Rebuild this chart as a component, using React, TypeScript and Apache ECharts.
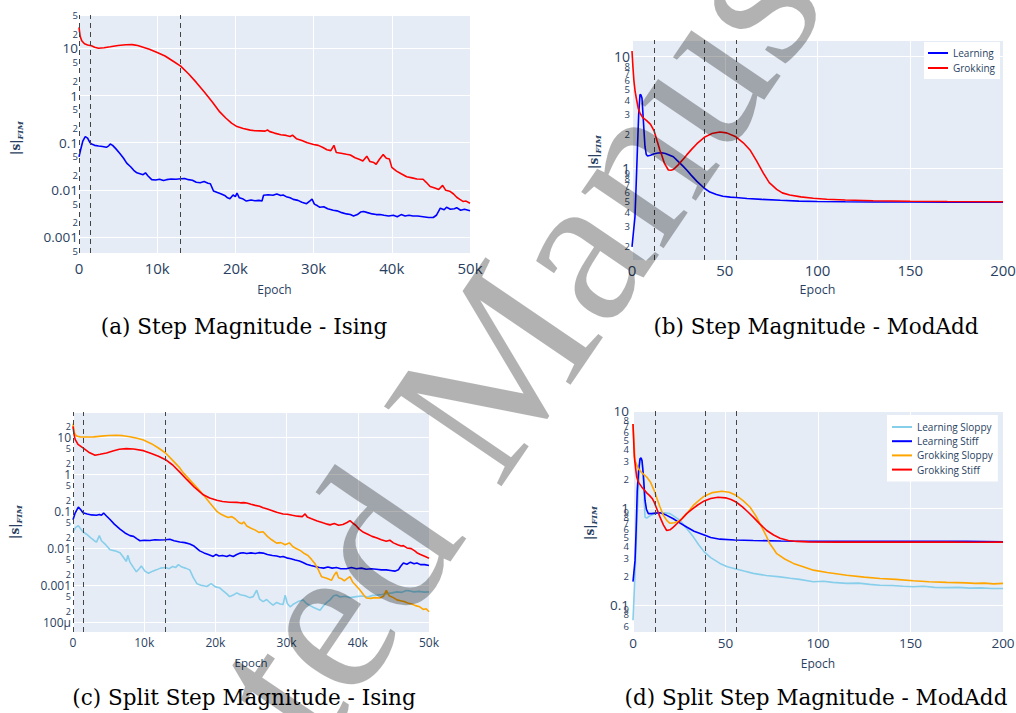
import React, { useEffect, useRef } from 'react';
import * as echarts from 'echarts';

// ---------- Data ----------
// Panel (a): Step Magnitude - Ising
const isingLearning: number[][] = [[0,0.05],[200,0.07],[500,0.11],[800,0.135],[1100,0.125],[1400,0.1],[1600,0.094],[2000,0.088],[2500,0.085],[3000,0.083],[3500,0.08],[3800,0.086],[4000,0.094],[4300,0.088],[4700,0.075],[5200,0.06],[5700,0.047],[6100,0.037],[6600,0.031],[7000,0.026],[7400,0.023],[7800,0.022],[8200,0.021],[8500,0.023],[8800,0.02],[9300,0.0165],[9800,0.0162],[10300,0.0168],[10800,0.0158],[11200,0.0165],[11800,0.017],[12400,0.0168],[13000,0.0172],[13500,0.0175],[14000,0.0165],[14500,0.016],[15000,0.0145],[15500,0.0142],[16000,0.015],[16500,0.0138],[16800,0.0135],[17200,0.0095],[17700,0.0088],[18200,0.0082],[18700,0.0075],[19000,0.0068],[19300,0.0065],[19700,0.0078],[20000,0.0072],[20200,0.0086],[20500,0.0068],[21000,0.0064],[21400,0.0058],[22000,0.0061],[22500,0.0059],[23000,0.006],[23400,0.0058],[23600,0.0077],[24200,0.0079],[24800,0.0077],[25300,0.0082],[25800,0.0076],[26100,0.0078],[26500,0.0072],[27000,0.0068],[27400,0.0063],[28000,0.006],[28500,0.0055],[29100,0.0051],[29500,0.0058],[29800,0.0064],[30100,0.005],[30500,0.0046],[30800,0.0043],[31300,0.0044],[31800,0.004],[32500,0.0037],[33000,0.0036],[33600,0.0033],[34200,0.0031],[34700,0.003],[35100,0.0028],[35600,0.003],[36000,0.0034],[36400,0.0035],[36900,0.0033],[37500,0.0031],[38000,0.003],[38500,0.003],[39000,0.0029],[39600,0.0028],[40200,0.0029],[40700,0.0027],[41200,0.003],[41700,0.0028],[42200,0.0029],[42700,0.0028],[43300,0.0028],[44000,0.0027],[44700,0.0026],[45300,0.0026],[45700,0.0029],[46200,0.0041],[46700,0.0038],[47000,0.0043],[47500,0.0039],[48000,0.004],[48300,0.0042],[48800,0.0037],[49300,0.0039],[50000,0.0036]];
const isingGrokking: number[][] = [[0,28],[150,18],[350,14.5],[700,12.5],[1100,11.8],[1600,11.4],[2000,10.6],[2500,10.1],[3200,10.3],[4000,10.8],[5000,11.5],[6000,11.9],[6800,12],[7500,11.5],[8200,10.6],[9000,9.6],[10000,8.2],[11000,6.9],[12000,5.4],[13000,4.2],[14000,2.9],[15000,1.9],[16000,1.2],[17000,0.75],[18000,0.45],[18800,0.33],[19500,0.26],[20200,0.22],[21000,0.2],[21900,0.185],[22500,0.18],[23200,0.178],[23800,0.176],[24100,0.186],[24400,0.172],[25000,0.16],[25800,0.148],[26500,0.143],[27000,0.136],[27300,0.145],[27800,0.122],[28500,0.112],[29200,0.1],[30000,0.092],[30600,0.088],[31200,0.079],[31700,0.071],[32200,0.068],[32600,0.088],[32900,0.062],[33500,0.06],[34200,0.057],[34700,0.055],[35300,0.048],[35900,0.044],[36300,0.041],[36800,0.052],[37200,0.04],[37700,0.038],[38000,0.035],[38400,0.044],[38900,0.056],[39300,0.047],[39700,0.045],[40000,0.03],[40600,0.025],[41200,0.022],[41900,0.019],[42600,0.018],[43200,0.017],[44000,0.0168],[44400,0.0145],[44900,0.0118],[45500,0.011],[46000,0.0102],[46500,0.0125],[46900,0.0098],[47400,0.0094],[47900,0.0082],[48300,0.007],[48700,0.0063],[49100,0.0057],[49500,0.0058],[50000,0.0052]];

// Panel (b): Step Magnitude - ModAdd
const modLearning: number[][] = [[0,0.198],[0.8,0.27],[1.6,0.367],[2.3,0.75],[2.9,1.45],[3.6,3.0],[4.3,4.54],[4.8,4.5],[5.4,4.19],[6.1,2.7],[7,1.55],[7.7,1.32],[8.4,1.28],[10,1.3],[12,1.34],[14,1.36],[16,1.37],[18,1.35],[20,1.31],[22.3,1.26],[25,1.14],[27.5,1.04],[29.5,0.96],[32,0.86],[35,0.76],[39,0.66],[42,0.61],[45.5,0.58],[49,0.56],[53,0.55],[56,0.546],[62,0.535],[70,0.525],[80,0.515],[90,0.507],[100,0.503],[115,0.5],[130,0.498],[150,0.497],[170,0.496],[185,0.496],[200,0.495]];
const modGrokking: number[][] = [[0,11.1],[0.5,8],[1,6.1],[1.7,4.8],[2.5,4.05],[3.4,3.4],[4.3,3.08],[6,2.8],[7.9,2.65],[10,2.45],[11.9,2.15],[13.5,1.75],[15,1.45],[16,1.31],[17.5,1.1],[19.6,0.96],[21,0.955],[22.3,0.97],[24.5,1.05],[27,1.17],[29.5,1.31],[32,1.46],[35,1.65],[39,1.88],[43,2.03],[47.4,2.1],[51,2.06],[56,1.9],[60,1.68],[63.6,1.45],[67,1.17],[70.8,0.9],[74,0.74],[78,0.645],[81,0.6],[85,0.574],[91,0.553],[97.7,0.537],[105,0.527],[115,0.518],[130,0.51],[150,0.505],[170,0.502],[200,0.5]];

// Panel (c): Split Step Magnitude - Ising
const isingLearningSloppy: number[][] = [[0,0.028],[350,0.036],[750,0.041],[1100,0.033],[1400,0.028],[1900,0.024],[2500,0.019],[3000,0.016],[3300,0.0147],[3700,0.022],[4000,0.016],[4500,0.013],[5200,0.0091],[5900,0.0085],[6600,0.0076],[7000,0.006],[7500,0.0044],[7700,0.0065],[8000,0.0042],[8500,0.003],[8900,0.0023],[9300,0.0028],[9600,0.0033],[10100,0.0024],[10600,0.0021],[11200,0.0024],[11700,0.0026],[12300,0.0029],[13000,0.003],[13500,0.0028],[14000,0.0032],[14400,0.003],[14800,0.0036],[15300,0.0031],[15800,0.0029],[16400,0.0026],[16900,0.0016],[17400,0.0011],[18000,0.001],[18800,0.00092],[19400,0.0011],[20000,0.0009],[20600,0.00085],[21100,0.0007],[21600,0.00058],[22000,0.00049],[22500,0.00054],[23000,0.00062],[23500,0.00055],[24200,0.00052],[24800,0.00046],[25300,0.00049],[25800,0.00073],[26200,0.00042],[26700,0.00036],[27200,0.00041],[27700,0.00033],[28100,0.00029],[28600,0.00034],[29100,0.00031],[29500,0.0003],[29800,0.00054],[30100,0.00032],[30500,0.00026],[31000,0.00031],[31600,0.00036],[32300,0.0004],[32800,0.00032],[33300,0.00028],[33800,0.00025],[34200,0.00023],[34700,0.00021],[35200,0.00028],[35700,0.00035],[36100,0.0004],[36600,0.00052],[37000,0.00054],[37500,0.00048],[38200,0.0005],[38900,0.00046],[39800,0.00049],[40600,0.00051],[41400,0.00048],[42100,0.00053],[42700,0.00054],[43400,0.00056],[44100,0.00059],[44800,0.00062],[45500,0.00066],[46200,0.00064],[46800,0.00072],[47300,0.0007],[47900,0.00066],[48600,0.00068],[49300,0.00065],[50000,0.00066]];
const isingLearningStiff: number[][] = [[0,0.059],[300,0.09],[750,0.13],[1100,0.11],[1400,0.092],[2000,0.085],[2600,0.08],[3300,0.078],[3700,0.082],[4000,0.078],[4300,0.09],[4700,0.075],[5200,0.06],[5800,0.045],[6600,0.033],[7300,0.026],[8000,0.022],[8500,0.021],[9000,0.018],[9400,0.016],[10000,0.0165],[10800,0.0162],[11500,0.017],[12200,0.0168],[13000,0.017],[13600,0.0175],[14200,0.016],[15000,0.0148],[15700,0.0142],[16400,0.013],[17000,0.0115],[17800,0.0085],[18400,0.0075],[19000,0.0068],[19700,0.006],[20100,0.0068],[20500,0.0062],[21000,0.0064],[21600,0.006],[22000,0.0065],[22500,0.006],[23000,0.0068],[23500,0.0074],[23900,0.0076],[24400,0.0072],[25000,0.0075],[25600,0.0072],[26100,0.0076],[26700,0.0074],[27300,0.0068],[28000,0.0064],[28600,0.0062],[29100,0.0058],[29500,0.006],[30000,0.0055],[30600,0.0052],[31200,0.0048],[31800,0.0045],[32300,0.0041],[32800,0.0037],[33400,0.0034],[34000,0.0032],[34600,0.003],[35200,0.0029],[35800,0.0031],[36400,0.0029],[37000,0.003],[37600,0.0028],[38400,0.0028],[39100,0.003],[39800,0.0028],[40500,0.0029],[41200,0.0027],[41900,0.0028],[42600,0.0027],[43300,0.0026],[44000,0.0026],[44600,0.0025],[45200,0.0024],[45700,0.0026],[46000,0.0032],[46400,0.004],[46900,0.0037],[47400,0.0042],[47900,0.0038],[48300,0.004],[48800,0.0036],[49400,0.0036],[50000,0.0034]];
const isingGrokkingSloppy: number[][] = [[0,23.6],[150,14],[300,12],[600,10.8],[1000,10.4],[2000,10.3],[2900,10.4],[4000,10.9],[5000,11.3],[6100,11.5],[7000,11.2],[8000,10.5],[9000,9.5],[9900,8.5],[11000,6.8],[12000,5.2],[13000,3.8],[14000,2.4],[15000,1.5],[15500,1.1],[16500,0.68],[17500,0.42],[18300,0.28],[19200,0.17],[20200,0.1],[20800,0.083],[21300,0.075],[21800,0.068],[22300,0.072],[22800,0.062],[23300,0.05],[23700,0.046],[24000,0.052],[24400,0.04],[25000,0.035],[25600,0.031],[26100,0.027],[26700,0.028],[27300,0.021],[27900,0.017],[28600,0.0138],[29200,0.0142],[29800,0.0125],[30400,0.014],[30900,0.011],[31500,0.0095],[32000,0.0085],[32500,0.0072],[33000,0.0064],[33500,0.005],[34000,0.0038],[34500,0.0025],[34900,0.0017],[35400,0.0016],[35800,0.0015],[36300,0.00135],[36700,0.0019],[37000,0.0023],[37300,0.0016],[37700,0.0015],[38100,0.0013],[38500,0.0015],[38900,0.0017],[39300,0.0012],[39700,0.001],[40300,0.00074],[40800,0.00055],[41200,0.00045],[41800,0.00044],[42400,0.00046],[43100,0.00045],[43600,0.0005],[44000,0.00072],[44400,0.00052],[45000,0.00046],[45500,0.0004],[46000,0.00038],[46500,0.00036],[47000,0.00033],[47600,0.00031],[48100,0.00028],[48700,0.00026],[49200,0.00022],[49600,0.00023],[50000,0.00019]];
const isingGrokkingStiff: number[][] = [[0,20],[150,12],[300,8.9],[700,6.5],[1400,5.2],[2200,4],[3100,3.3],[3800,3.5],[4700,3.8],[5600,4.3],[6500,4.8],[7500,5.0],[8500,4.9],[9900,4.4],[11000,3.7],[12000,3.1],[13000,2.5],[14000,1.8],[15000,1.15],[16000,0.72],[17000,0.46],[18300,0.28],[19200,0.23],[20200,0.2],[21000,0.185],[22000,0.176],[23000,0.175],[23500,0.17],[24000,0.172],[24400,0.168],[25000,0.155],[25600,0.145],[26200,0.138],[26700,0.125],[27300,0.115],[27900,0.105],[28600,0.094],[29500,0.085],[30100,0.083],[30800,0.078],[31500,0.074],[32200,0.072],[32600,0.085],[32900,0.07],[33500,0.063],[34300,0.055],[35100,0.049],[35700,0.045],[36100,0.043],[36700,0.047],[37300,0.042],[37900,0.044],[38500,0.05],[38900,0.056],[39300,0.048],[39700,0.042],[40200,0.033],[40800,0.027],[41400,0.024],[42000,0.021],[42700,0.019],[43300,0.017],[44000,0.0155],[44500,0.0165],[45000,0.014],[45600,0.0125],[46100,0.0115],[46400,0.0118],[46900,0.0102],[47500,0.0098],[48000,0.0085],[48300,0.0076],[48800,0.0068],[49300,0.0062],[49700,0.0057],[50000,0.0054]];

// Panel (d): Split Step Magnitude - ModAdd
const modLearningSloppy: number[][] = [[0,0.07],[0.7,0.143],[1.6,0.37],[2.3,0.9],[2.9,1.53],[3.8,3.2],[4.4,3.3],[4.9,3.07],[5.6,2.0],[6.5,0.81],[7.4,0.79],[8.5,0.82],[10,0.85],[12,0.88],[14.6,0.9],[17,0.9],[20,0.88],[22.5,0.82],[25.4,0.75],[29,0.62],[32.6,0.507],[35.5,0.42],[38.5,0.355],[42,0.31],[47,0.27],[51,0.25],[55.7,0.236],[60,0.225],[65,0.213],[72,0.203],[79.5,0.196],[85,0.19],[90,0.185],[97.5,0.175],[103,0.177],[108,0.172],[115.5,0.168],[122,0.169],[128,0.164],[133.5,0.161],[140,0.16],[146,0.157],[151.5,0.155],[157,0.157],[163,0.153],[169.5,0.152],[176,0.153],[182,0.15],[188,0.151],[194,0.149],[200,0.149]];
const modLearningStiff: number[][] = [[0,0.175],[1.1,0.29],[1.7,0.6],[2.3,1.53],[3,2.4],[3.8,3.25],[4.4,3.3],[4.9,3.07],[5.6,2.2],[6.5,1.21],[7.3,0.97],[8.3,0.88],[10,0.88],[12,0.89],[14.6,0.9],[18,0.85],[21.8,0.78],[25,0.71],[29,0.64],[33,0.58],[38.5,0.53],[42,0.5],[47,0.48],[55,0.47],[65,0.465],[80,0.46],[100,0.455],[120,0.455],[140,0.455],[160,0.455],[180,0.455],[200,0.452]];
const modGrokkingSloppy: number[][] = [[0,7.4],[0.6,4.5],[1.1,3.1],[2,2.8],[2.9,2.56],[5,2.3],[7.4,2.1],[9.5,1.85],[11.4,1.53],[13,1.25],[14.6,1.03],[16.5,0.84],[18.5,0.74],[20,0.7],[22.5,0.71],[25.4,0.75],[29,0.88],[32.6,1.07],[35.5,1.2],[38.5,1.33],[43,1.45],[48,1.5],[52,1.46],[55.7,1.36],[59.5,1.2],[63.2,1.03],[66.5,0.83],[69.6,0.64],[72,0.52],[74,0.43],[76,0.38],[77.7,0.34],[82,0.3],[86.7,0.27],[92,0.25],[97.5,0.23],[105,0.218],[115.5,0.204],[125,0.195],[133.5,0.189],[142,0.185],[151.5,0.179],[160,0.175],[169.5,0.172],[175,0.171],[180,0.17],[185,0.168],[190,0.169],[195,0.166],[200,0.168]];
const modGrokkingStiff: number[][] = [[0,7.4],[0.7,3.4],[1.5,2.5],[2,2.1],[3,1.85],[4.7,1.66],[6,1.55],[7.4,1.44],[9,1.35],[10.5,1.25],[11.4,1.16],[13,0.97],[14.6,0.81],[16.5,0.67],[18.2,0.59],[20,0.6],[21.8,0.64],[24,0.7],[26.5,0.78],[29,0.88],[32,0.98],[35,1.08],[38.5,1.19],[42,1.26],[46,1.3],[50,1.28],[53,1.23],[55.7,1.16],[59,1.04],[62,0.92],[65,0.81],[68.5,0.69],[72.3,0.59],[76,0.53],[79.5,0.49],[84,0.465],[88.5,0.455],[95,0.45],[110,0.448],[130,0.448],[150,0.447],[170,0.448],[185,0.446],[200,0.447]];

// Phase boundaries (dashed lines)
const isingPhaseLines = [0, 1500, 13000];
const modAddPhaseLines = [12, 39, 56];

// Tick values
const yTicksA = [0.0005, 0.001, 0.002, 0.005, 0.01, 0.02, 0.05, 0.1, 0.2, 0.5, 1, 2, 5, 10, 20, 50];
const yTicksB = [0.2, 0.3, 0.4, 0.5, 0.6, 0.7, 0.8, 0.9, 1, 2, 3, 4, 5, 6, 7, 8, 9, 10];
const yTicksC = [0.0001, 0.0002, 0.0005, 0.001, 0.002, 0.005, 0.01, 0.02, 0.05, 0.1, 0.2, 0.5, 1, 2, 5, 10, 20];
const yTicksD = [0.06, 0.07, 0.08, 0.09, 0.1, 0.2, 0.3, 0.4, 0.5, 0.6, 0.7, 0.8, 0.9, 1, 2, 3, 4, 5, 6, 7, 8, 9, 10];
const powerLabels: Record<string, string> = { '1': '10', '0': '1', '-1': '0.1', '-2': '0.01', '-3': '0.001', '-4': '100μ' };

const captions = [
  '(a) Step Magnitude - Ising',
  '(b) Step Magnitude - ModAdd',
  '(c) Split Step Magnitude - Ising',
  '(d) Split Step Magnitude - ModAdd',
];
const watermark = 'Accepted Manuscript';

const C_RED = '#ff0000';
const C_BLUE = '#0000ff';
const C_ORANGE = '#ffa500';
const C_SKY = '#87ceeb';
const TXT = '#2a3f5f';
const FONT = 'Open Sans';

function logLabel(v: number): string {
  const lg = Math.log10(v);
  const e = Math.round(lg);
  if (Math.abs(lg - e) < 1e-6) return '{big|' + powerLabels[String(e)] + '}';
  const m = Math.round(v / Math.pow(10, Math.floor(lg + 1e-9)));
  return '{small|' + m + '}';
}

function yAxis(gridIndex: number, min: number, max: number, ticks: number[], big: number, small: number, margin: number) {
  return {
    type: 'log', logBase: 10, gridIndex, min, max,
    axisLine: { show: false }, axisTick: { show: false },
    axisLabel: {
      customValues: ticks, formatter: logLabel, margin, color: TXT,
      showMinLabel: true, showMaxLabel: true, hideOverlap: false,
      rich: {
        big: { fontSize: big, color: TXT, fontFamily: FONT },
        small: { fontSize: small, color: TXT, fontFamily: FONT },
      },
    },
    splitLine: { show: true, customValues: ticks, lineStyle: { color: '#ffffff', width: 1 } },
    minorTick: { show: false }, minorSplitLine: { show: false },
  };
}

function xAxis(gridIndex: number, max: number, interval: number, isK: boolean, fs: number, margin: number, nameGap: number, nameSize: number) {
  return {
    type: 'value', gridIndex, min: 0, max, interval,
    axisLine: { show: false }, axisTick: { show: false },
    axisLabel: {
      fontSize: fs, color: TXT, fontFamily: FONT, margin, showMinLabel: true, showMaxLabel: true,
      formatter: (v: number) => (isK ? (v === 0 ? '0' : v / 1000 + 'k') : String(v)),
    },
    splitLine: { show: true, lineStyle: { color: '#ffffff', width: 1 } },
    name: 'Epoch', nameLocation: 'middle', nameGap,
    nameTextStyle: { fontSize: nameSize, color: TXT, fontFamily: FONT },
  };
}

function lineSeries(name: string, data: number[][], color: string, idx: number, dashed?: number[]) {
  const s: any = {
    type: 'line', name, data, xAxisIndex: idx, yAxisIndex: idx,
    showSymbol: false, symbol: 'none', silent: true, emphasis: { disabled: true },
    lineStyle: { color, width: 1.6 }, itemStyle: { color },
  };
  if (dashed) {
    s.markLine = {
      silent: true, symbol: ['none', 'none'], label: { show: false },
      lineStyle: { type: [5, 4], color: '#444444', width: 1 },
      emphasis: { disabled: true },
      data: dashed.map((x) => ({ xAxis: x })),
    };
  }
  return s;
}

function yTitle(x: number, y: number) {
  return {
    type: 'text', x, y, rotation: Math.PI / 2, silent: true,
    style: {
      text: '{n||s|}{s|FIM}', align: 'center', verticalAlign: 'middle',
      rich: {
        n: { fontSize: 12, fontWeight: 'bold', fontFamily: 'DejaVu Serif', fill: TXT, lineHeight: 15, verticalAlign: 'middle' },
        s: { fontSize: 8, fontWeight: 'bold', fontStyle: 'italic', fontFamily: 'DejaVu Serif', fill: TXT, lineHeight: 15, verticalAlign: 'bottom' },
      },
    },
  };
}

function caption(text: string, x: number, y: number) {
  return {
    type: 'text', x, y, silent: true,
    style: { text, fontSize: 21.5, fontFamily: 'DejaVu Serif', fill: '#000000', align: 'center', verticalAlign: 'middle' },
  };
}

export default function App() {
  const ref = useRef<HTMLDivElement>(null);
  useEffect(() => {
    if (!ref.current) return;
    const chart = echarts.init(ref.current, undefined, { renderer: 'svg' });
    const gridBase = { show: true, backgroundColor: '#E5ECF6', borderWidth: 0, containLabel: false, outerBoundsMode: 'none' };
    const legendBase = {
      orient: 'vertical', icon: 'rect', itemWidth: 20, itemHeight: 2, selectedMode: false,
      backgroundColor: '#ffffff', textStyle: { fontSize: 10, color: TXT, fontFamily: FONT, lineHeight: 12 },
    };
    const option: any = {
      animation: false,
      textStyle: { fontFamily: FONT },
      grid: [
        { ...gridBase, left: 79, top: 15, width: 391, height: 238 },
        { ...gridBase, left: 632, top: 40, width: 371, height: 220 },
        { ...gridBase, left: 73, top: 412, width: 356, height: 220 },
        { ...gridBase, left: 633, top: 410, width: 370, height: 222 },
      ],
      xAxis: [
        xAxis(0, 50000, 10000, true, 15, 7, 30, 12),
        xAxis(1, 200, 50, false, 15, 2, 23, 12.5),
        xAxis(2, 50000, 10000, true, 12, 4, 24, 11.5),
        xAxis(3, 200, 50, false, 13.5, 4, 25, 12),
      ],
      yAxis: [
        yAxis(0, 0.00046, 51, yTicksA, 13.5, 9.5, 1),
        yAxis(1, 0.151, 13.9, yTicksB, 14, 9.5, 2),
        yAxis(2, 0.000054, 49, yTicksC, 12, 9, 2),
        yAxis(3, 0.053, 10.3, yTicksD, 13.5, 9.5, 4),
      ],
      legend: [
        { ...legendBase, data: ['Learning', 'Grokking'], left: 924, top: 42, itemGap: 3, padding: [5, 5, 5, 4] },
        { ...legendBase, data: ['Learning Sloppy', 'Learning Stiff', 'Grokking Sloppy', 'Grokking Stiff'], left: 887, top: 415, itemGap: 2.2, padding: [6, 5, 6, 5] },
      ],
      series: [
        lineSeries('Ising Learning', isingLearning, C_BLUE, 0, isingPhaseLines),
        lineSeries('Ising Grokking', isingGrokking, C_RED, 0),
        lineSeries('Learning', modLearning, C_BLUE, 1, modAddPhaseLines),
        lineSeries('Grokking', modGrokking, C_RED, 1),
        lineSeries('Ising Learning Sloppy', isingLearningSloppy, C_SKY, 2, isingPhaseLines),
        lineSeries('Ising Learning Stiff', isingLearningStiff, C_BLUE, 2),
        lineSeries('Ising Grokking Sloppy', isingGrokkingSloppy, C_ORANGE, 2),
        lineSeries('Ising Grokking Stiff', isingGrokkingStiff, C_RED, 2),
        lineSeries('Learning Sloppy', modLearningSloppy, C_SKY, 3, modAddPhaseLines),
        lineSeries('Learning Stiff', modLearningStiff, C_BLUE, 3),
        lineSeries('Grokking Sloppy', modGrokkingSloppy, C_ORANGE, 3),
        lineSeries('Grokking Stiff', modGrokkingStiff, C_RED, 3),
      ],
      graphic: [
        caption(captions[0], 244, 326),
        caption(captions[1], 816, 326),
        caption(captions[2], 244, 697),
        caption(captions[3], 816, 697),
        yTitle(16, 138),
        yTitle(594, 152),
        yTitle(15, 522),
        yTitle(590, 523),
        {
          type: 'text', x: 470, y: 403, rotation: (55.8 * Math.PI) / 180, z: 100, silent: true,
          style: {
            text: watermark, fontSize: 217, fontFamily: 'Liberation Serif',
            fill: 'rgba(0,0,0,0.3)', align: 'center', verticalAlign: 'middle',
          },
        },
      ],
    };
    chart.setOption(option);
    return () => chart.dispose();
  }, []);
  return <div ref={ref} style={{ position: 'absolute', left: 0, top: 0, width: 1016, height: 713 }} />;
}
